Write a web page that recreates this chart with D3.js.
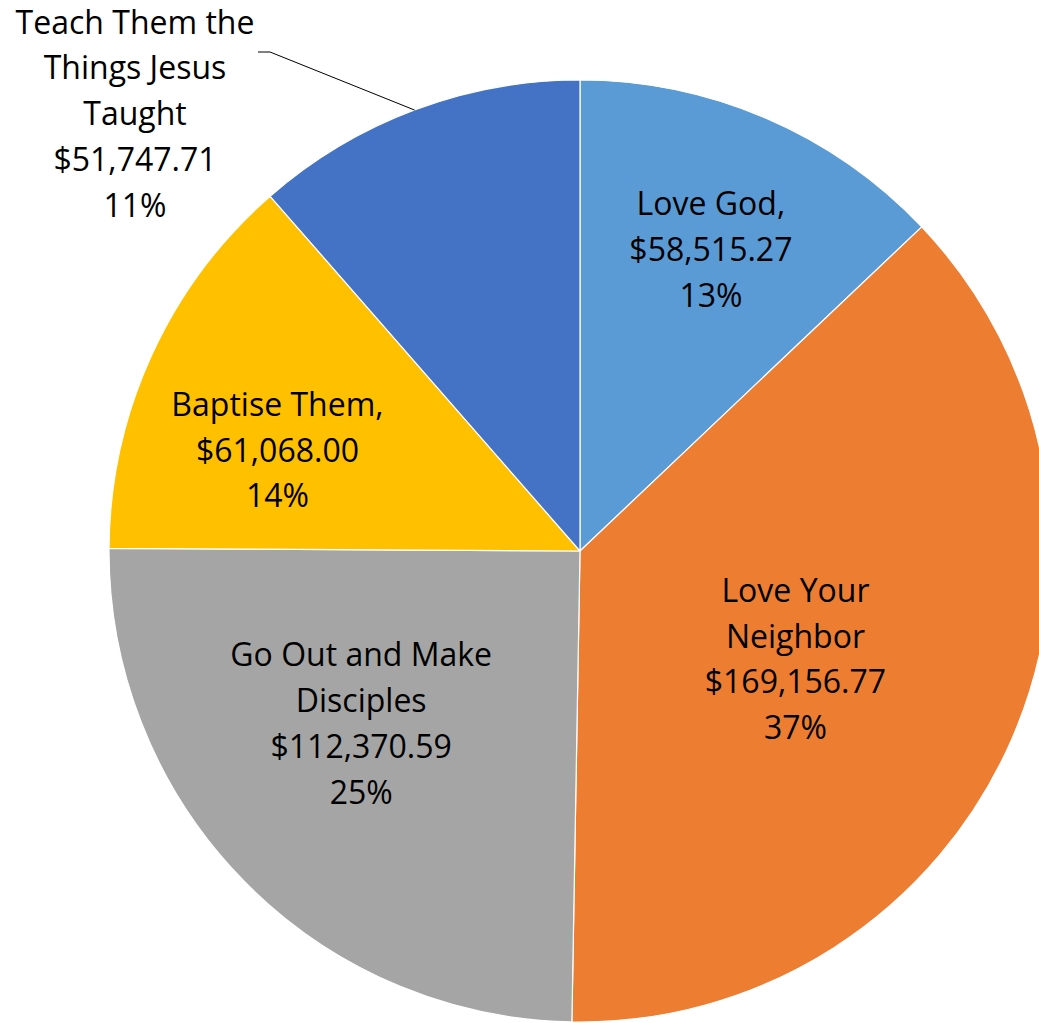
<!DOCTYPE html>
<html>
<head>
<meta charset="utf-8">
<script src="https://cdn.jsdelivr.net/npm/d3@7"></script>
<style>
html,body{margin:0;padding:0;background:#fff;}
svg{display:block;}
text{font-family:"Open Sans","Noto Sans",sans-serif;fill:#000;}
</style>
</head>
<body>
<svg id="chart" width="1039" height="1023"></svg>
<script>
const categories = ["Love God", "Love Your Neighbor", "Go Out and Make Disciples", "Baptise Them", "Teach Them the Things Jesus Taught"];
const values = [58515.27, 169156.77, 112370.59, 61068.00, 51747.71];
const labelLines = [
  ["Love God,", "$58,515.27", "13%"],
  ["Love Your", "Neighbor", "$169,156.77", "37%"],
  ["Go Out and Make", "Disciples", "$112,370.59", "25%"],
  ["Baptise Them,", "$61,068.00", "14%"],
  ["Teach Them the", "Things Jesus", "Taught", "$51,747.71", "11%"]
];
const colors = ["#5B9BD5", "#ED7D31", "#A5A5A5", "#FFC000", "#4472C4"];

const W = 1039, H = 1023;
const cx = 580, cy = 551, R = 471;
const lineH = 45.8;
const fontSize = 32;

// label placement (polar, relative to pie centre): radius fraction and angle (deg)
const labelPolar = [
  {r: 0.697, a: 23.5},
  {r: 0.512, a: 116.7},
  {r: 0.592, a: 231.7},
  {r: 0.677, a: 288.4},
  null
];

const svg = d3.select("#chart");
const g = svg.append("g").attr("transform", `translate(${cx},${cy})`);

const pie = d3.pie().sort(null).value(d => d).startAngle(0).endAngle(2 * Math.PI);
const arcs = pie(values);
const arc = d3.arc().innerRadius(0).outerRadius(R);

g.selectAll("path.slice").data(arcs).enter().append("path")
  .attr("class", "slice")
  .attr("d", arc)
  .attr("fill", (d, i) => colors[i])
  .attr("stroke", "#fff")
  .attr("stroke-width", 1.2)
  .attr("stroke-linejoin", "round");

function drawLabel(lines, x, y) {
  const t = g.append("text")
    .attr("text-anchor", "middle")
    .attr("font-size", fontSize);
  const n = lines.length;
  lines.forEach((ln, k) => {
    t.append("tspan")
      .attr("x", x)
      .attr("y", y + (k - (n - 1) / 2) * lineH)
      .attr("dy", "0.35em")
      .text(ln);
  });
}

arcs.forEach((d, i) => {
  const p = labelPolar[i];
  if (p) {
    const ang = p.a * Math.PI / 180;
    drawLabel(labelLines[i], Math.sin(ang) * p.r * R, -Math.cos(ang) * p.r * R);
  }
});

// outside label with leader line for the last slice
const last = arcs[4];
const mid = (last.startAngle + last.endAngle) / 2;
const ex = Math.sin(mid) * R, ey = -Math.cos(mid) * R;
const lx = 135 - cx, ly = 114 - cy;
const elbowX = 270 - cx, elbowY = 52 - cy;
g.append("polyline")
  .attr("points", `${ex},${ey} ${elbowX},${elbowY} ${elbowX - 12},${elbowY}`)
  .attr("fill", "none")
  .attr("stroke", "#000")
  .attr("stroke-width", 1);
drawLabel(labelLines[4], lx, ly);
</script>
</body>
</html>
